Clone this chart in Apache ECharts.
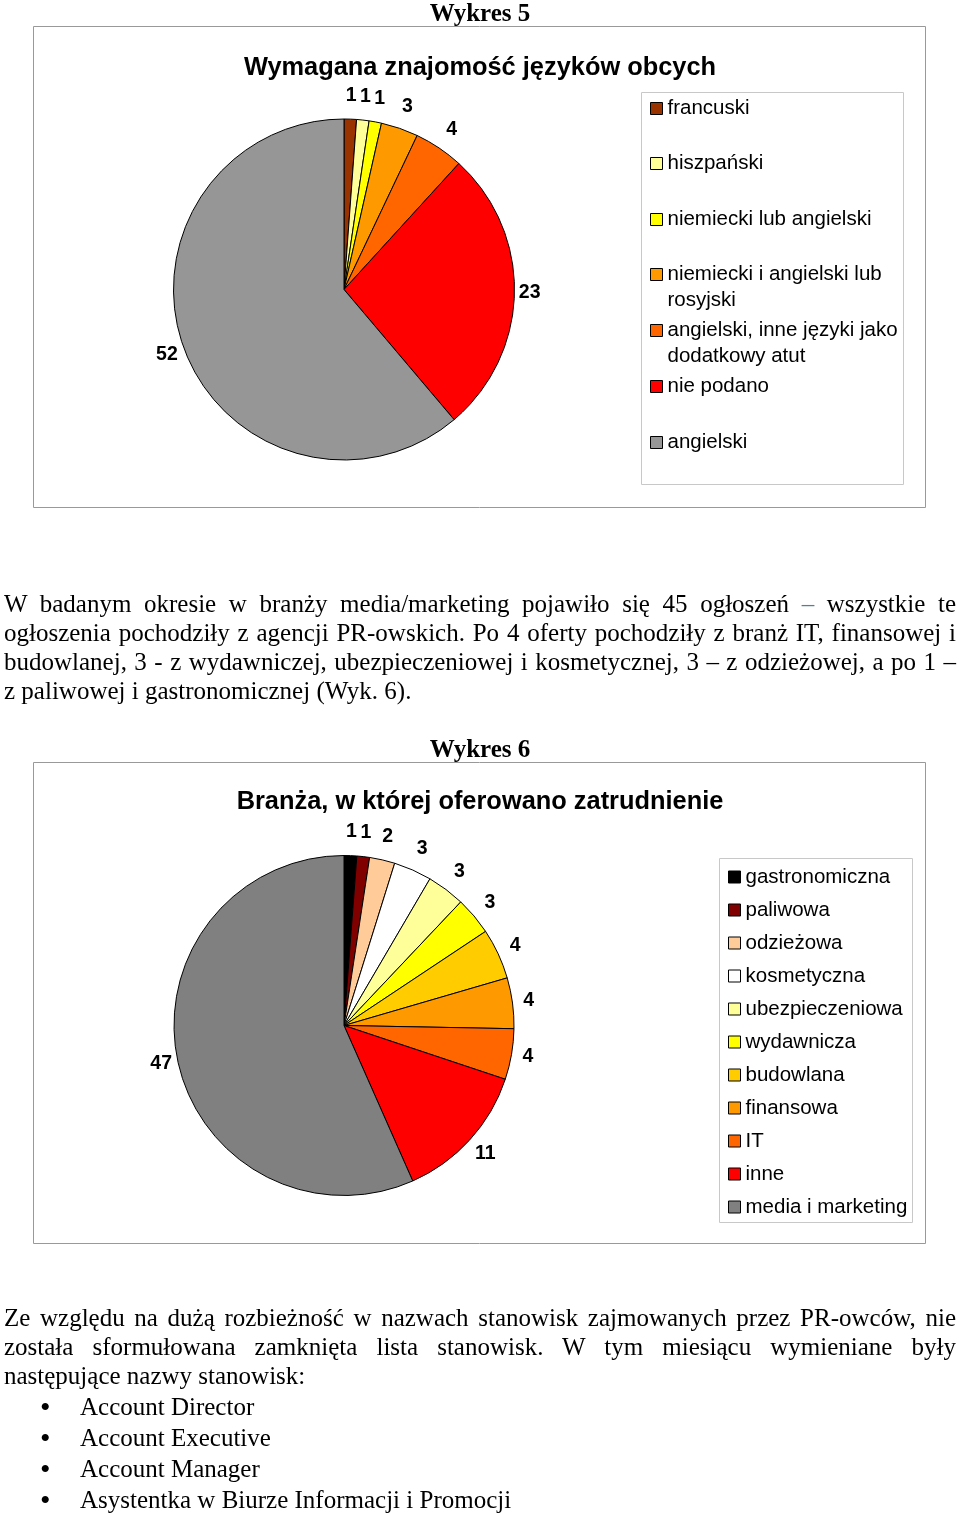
<!DOCTYPE html>
<html>
<head>
<meta charset="utf-8">
<script src="https://cdn.jsdelivr.net/npm/echarts@6/dist/echarts.min.js"></script>
<style>
  html, body { margin: 0; padding: 0; background: #fff; }
  #page { position: relative; width: 960px; height: 1513px; overflow: hidden; }
  #chart { position: absolute; left: 0; top: 0; width: 960px; height: 1513px; }
  .h { position: absolute; left: 0; width: 960px; text-align: center; font-family: "Liberation Serif", serif; font-weight: bold; font-size: 25px; line-height: 26px; color: #000; }
  .para { position: absolute; left: 4px; width: 952px; font-family: "Liberation Serif", serif; font-size: 25px; line-height: 29px; color: #000; }
  .para div { text-align: justify; text-align-last: justify; white-space: nowrap; }
  .para div.last { text-align-last: left; }
  .list { position: absolute; left: 0; font-family: "Liberation Serif", serif; font-size: 25px; line-height: 31px; color: #000; }
  .list div { position: relative; padding-left: 80px; }
  .list div span.b { position: absolute; left: 40px; font-size: 30px; }
</style>
</head>
<body>
<div id="page">
  <div id="chart"></div>
  <div class="h" style="top:0px;">Wykres 5</div>
  <div class="para" style="top:589px;">
    <div>W badanym okresie w branży media/marketing pojawiło się 45 ogłoszeń <span style="color:#5a7f8a">–</span> wszystkie te</div>
    <div>ogłoszenia pochodziły z agencji PR-owskich. Po 4 oferty pochodziły z branż IT, finansowej i</div>
    <div>budowlanej, 3 - z wydawniczej, ubezpieczeniowej i kosmetycznej, 3 – z odzieżowej, a po 1 –</div>
    <div class="last">z paliwowej i gastronomicznej (Wyk. 6).</div>
  </div>
  <div class="h" style="top:736px;">Wykres 6</div>
  <div class="para" style="top:1303px;">
    <div>Ze względu na dużą rozbieżność w nazwach stanowisk zajmowanych przez PR-owców, nie</div>
    <div>została sformułowana zamknięta lista stanowisk. W tym miesiącu wymieniane były</div>
    <div class="last">następujące nazwy stanowisk:</div>
  </div>
  <div class="list" style="top:1391px;">
    <div><span class="b">•</span>Account Director</div>
    <div><span class="b">•</span>Account Executive</div>
    <div><span class="b">•</span>Account Manager</div>
    <div><span class="b">•</span>Asystentka w Biurze Informacji i Promocji</div>
  </div>
</div>
<script>
// ---- Data: Wykres 5 ----
const langCategories = ['francuski', 'hiszpański', 'niemiecki lub angielski', 'niemiecki i angielski lub rosyjski', 'angielski, inne języki jako dodatkowy atut', 'nie podano', 'angielski'];
const langValues = [1, 1, 1, 3, 4, 23, 52];
const langColors = ['#993300', '#FFFF99', '#FFFF00', '#FF9900', '#FF6600', '#FF0000', '#969696'];
const langLegendLines = {
  'niemiecki i angielski lub rosyjski': ['niemiecki i angielski lub', 'rosyjski'],
  'angielski, inne języki jako dodatkowy atut': ['angielski, inne języki jako', 'dodatkowy atut']
};
// ---- Data: Wykres 6 ----
const industryCategories = ['gastronomiczna', 'paliwowa', 'odzieżowa', 'kosmetyczna', 'ubezpieczeniowa', 'wydawnicza', 'budowlana', 'finansowa', 'IT', 'inne', 'media i marketing'];
const industryValues = [1, 1, 2, 3, 3, 3, 4, 4, 4, 11, 47];
const industryColors = ['#000000', '#800000', '#FFCC99', '#FFFFFF', '#FFFF99', '#FFFF00', '#FFCC00', '#FF9900', '#FF6600', '#FF0000', '#808080'];

const chart = echarts.init(document.getElementById('chart'), null, { renderer: 'canvas' });

const SANS = '"Liberation Sans", Arial, sans-serif';

const pie1 = { center: [344, 289.5], r: 170.5 };
const pie2 = { center: [344, 1025.5], r: 170 };

function labelLayoutFor(values, pie) {
  const total = values.reduce((a, b) => a + b, 0);
  return function (params) {
    let before = 0;
    for (let i = 0; i < params.dataIndex; i++) before += values[i];
    const mid = (before + values[params.dataIndex] / 2) / total * 2 * Math.PI;
    const s = Math.sin(mid), c = Math.cos(mid);
    const dist = pie.r + 15 + 9 * Math.abs(c);
    return {
      x: pie.center[0] + dist * s,
      y: pie.center[1] - dist * c,
      align: 'center',
      verticalAlign: 'middle'
    };
  };
}

function pieSeries(name, cats, vals, colors, pie) {
  return {
    type: 'pie',
    name: name,
    center: pie.center,
    radius: pie.r,
    startAngle: 90,
    clockwise: true,
    avoidLabelOverlap: false,
    animation: false,
    silent: true,
    itemStyle: { borderColor: '#000', borderWidth: 1 },
    label: {
      show: true,
      position: 'outside',
      formatter: '{c}',
      fontFamily: SANS,
      fontWeight: 'bold',
      fontSize: 19.5,
      color: '#000'
    },
    labelLine: { show: false },
    labelLayout: labelLayoutFor(vals, pie),
    emphasis: { disabled: true },
    data: cats.map((n, i) => ({ name: n, value: vals[i], itemStyle: { color: colors[i] } }))
  };
}

const LEG_FONT = 20.5;
// Legends for chart 5: one per item, positioned on a regular grid of first lines
const legend5Rows = [107, 162, 218, 273, 329, 385, 441];
const legends = langCategories.map((name, i) => {
  const multi = langLegendLines[name];
  const lh = multi ? 26 : 22;
  const h = multi ? 3 * lh : lh;
  return {
    data: [name],
    orient: 'vertical',
    left: 650,
    top: legend5Rows[i] + 1.5 - h / 2,
    padding: 0,
    itemWidth: 12,
    itemHeight: 12,
    icon: 'rect',
    selectedMode: false,
    itemStyle: { borderColor: '#000', borderWidth: 1 },
    textStyle: { fontFamily: SANS, fontSize: LEG_FONT, color: '#000', lineHeight: lh },
    formatter: function (n) {
      const m = langLegendLines[n];
      return m ? '\n' + m.join('\n') : n;
    }
  };
});
legends.push({
  data: industryCategories,
  orient: 'vertical',
  left: 728,
  top: 866,
  padding: 0,
  itemGap: 11,
  itemWidth: 12,
  itemHeight: 12,
  icon: 'rect',
  selectedMode: false,
  itemStyle: { borderColor: '#000', borderWidth: 1 },
  textStyle: { fontFamily: SANS, fontSize: LEG_FONT, color: '#000', lineHeight: 22 }
});

const TITLE_STYLE = { fontFamily: SANS, fontWeight: 'bold', fontSize: 25.4, color: '#000' };

const option = {
  backgroundColor: 'transparent',
  animation: false,
  title: [
    { text: 'Wymagana znajomość języków obcych', left: 'center', top: 55, padding: 0, textStyle: TITLE_STYLE },
    { text: 'Branża, w której oferowano zatrudnienie', left: 'center', top: 789, padding: 0, textStyle: TITLE_STYLE }
  ],
  legend: legends,
  graphic: [
    { type: 'rect', shape: { x: 33.5, y: 26.5, width: 892, height: 481 }, style: { fill: 'none', stroke: '#999', lineWidth: 1 }, silent: true, z: -10 },
    { type: 'rect', shape: { x: 641.5, y: 92.5, width: 262, height: 392 }, style: { fill: 'none', stroke: '#c8c8c8', lineWidth: 1 }, silent: true, z: -10 },
    { type: 'rect', shape: { x: 33.5, y: 762.5, width: 892, height: 481 }, style: { fill: 'none', stroke: '#999', lineWidth: 1 }, silent: true, z: -10 },
    { type: 'rect', shape: { x: 719.5, y: 858.5, width: 193, height: 364 }, style: { fill: 'none', stroke: '#c8c8c8', lineWidth: 1 }, silent: true, z: -10 }
  ],
  series: [
    pieSeries('Wymagana znajomość języków obcych', langCategories, langValues, langColors, pie1),
    pieSeries('Branża, w której oferowano zatrudnienie', industryCategories, industryValues, industryColors, pie2)
  ]
};
chart.setOption(option);
</script>
</body>
</html>
